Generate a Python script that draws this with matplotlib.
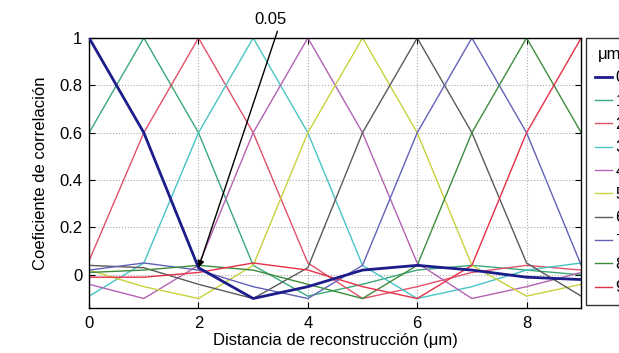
import matplotlib
matplotlib.use('Agg')
import matplotlib.pyplot as plt
import numpy as np

plt.rcParams['font.family'] = ['Liberation Sans', 'DejaVu Sans']

distancia = [0, 1, 2, 3, 4, 5, 6, 7, 8, 9]
etiquetas = ['0', '1', '2', '3', '4', '5', '6', '7', '8', '9']

c0 = [1.00, 0.60, 0.03, -0.10, -0.05, 0.02, 0.04, 0.02, -0.01, -0.02]
c1 = [0.60, 1.00, 0.60, 0.04, -0.09, -0.04, 0.02, 0.04, 0.02, 0.00]
c2 = [0.06, 0.60, 1.00, 0.60, 0.05, -0.10, -0.05, 0.01, 0.04, 0.02]
c3 = [-0.09, 0.05, 0.60, 1.00, 0.60, 0.04, -0.10, -0.05, 0.02, 0.05]
c4 = [-0.04, -0.10, 0.04, 0.60, 1.00, 0.60, 0.05, -0.10, -0.05, 0.01]
c5 = [0.02, -0.05, -0.10, 0.04, 0.60, 1.00, 0.60, 0.04, -0.09, -0.04]
c6 = [0.04, 0.03, -0.04, -0.10, 0.03, 0.60, 1.00, 0.60, 0.05, -0.09]
c7 = [0.02, 0.05, 0.02, -0.05, -0.10, 0.04, 0.60, 1.00, 0.60, 0.04]
c8 = [0.01, 0.02, 0.04, 0.02, -0.04, -0.10, 0.04, 0.60, 1.00, 0.60]
c9 = [-0.01, -0.01, 0.01, 0.05, 0.02, -0.05, -0.10, 0.04, 0.60, 1.00]

curvas = [c0, c1, c2, c3, c4, c5, c6, c7, c8, c9]
colores = ['#1c1c8a', '#3aa878', '#e2506a', '#48c4c4', '#b462b4',
           '#c8d23c', '#5a5a5a', '#6262b8', '#3c8c3c', '#e63048']

fig = plt.figure(figsize=(6.19, 3.53), dpi=100)
ax = fig.add_axes([0.144, 0.1275, 0.795, 0.765])

for i, (y, col) in enumerate(zip(curvas, colores)):
    lw = 2.0 if i == 0 else 1.0
    ax.plot(distancia, y, color=col, lw=lw, label=etiquetas[i], zorder=3 if i == 0 else 2)

ax.set_xlim(0, 9)
ax.set_ylim(-0.14, 1)
ax.set_xticks([0, 2, 4, 6, 8])
ax.set_yticks([0, 0.2, 0.4, 0.6, 0.8, 1])
ax.set_yticklabels(['0', '0.2', '0.4', '0.6', '0.8', '1'])
ax.grid(True, linestyle=':', color='#aaaaaa', lw=0.8)
ax.tick_params(direction='in', labelsize=12, length=4, top=True, right=True)
ax.tick_params(axis='x', pad=6)
ax.tick_params(axis='y', pad=5)
for s in ax.spines.values():
    s.set_linewidth(1.0)

ax.set_xlabel('Distancia de reconstrucción (μm)', fontsize=12, labelpad=1)
ax.set_ylabel('Coeficiente de correlación', fontsize=12, labelpad=8)

ax.annotate('0.05', xy=(2, c0[2]), xytext=(3.32, 1.045), fontsize=12,
            ha='center', va='bottom', annotation_clip=False,
            arrowprops=dict(arrowstyle='-|>', color='black', lw=1.0,
                            shrinkA=1, shrinkB=0, mutation_scale=10,
                            relpos=(0.75, 0.0)))

leg = ax.legend(title='μm', loc='upper left', bbox_to_anchor=(1.01, 1.0),
                fontsize=12, title_fontsize=12, frameon=True, fancybox=False,
                edgecolor='black', handlelength=1.0, handletextpad=0.2,
                labelspacing=0.5, borderpad=0.55, borderaxespad=0)
leg.get_frame().set_linewidth(1.0)

fig.savefig('out.png', dpi=100)
